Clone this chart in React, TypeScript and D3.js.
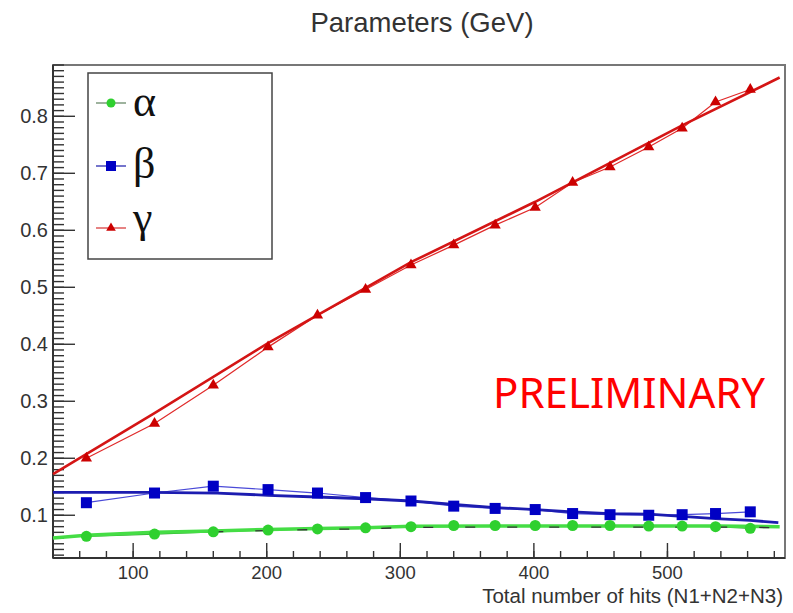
import React, { useEffect, useRef } from "react";
import * as d3 from "d3";

// hits (N1+N2+N3) for each measured point
const hits = [65, 116, 160, 201, 238, 274, 308, 340, 371, 401, 429, 457, 486, 511, 536, 562];

const alphaVals = [0.063, 0.067, 0.071, 0.074, 0.076, 0.078, 0.080, 0.082, 0.082, 0.082, 0.082, 0.082, 0.081, 0.081, 0.080, 0.077];
const betaVals = [0.122, 0.139, 0.151, 0.145, 0.139, 0.131, 0.125, 0.116, 0.112, 0.110, 0.103, 0.101, 0.100, 0.101, 0.103, 0.106];
const gammaVals = [0.200, 0.261, 0.328, 0.395, 0.451, 0.496, 0.539, 0.574, 0.609, 0.640, 0.684, 0.711, 0.746, 0.779, 0.825, 0.847];

// fit curves
const alphaFitX = [40, 65, 116, 160, 201, 238, 274, 308, 371, 457, 536, 584];
const alphaFitY = [0.060, 0.065, 0.070, 0.0725, 0.075, 0.0767, 0.078, 0.0805, 0.081, 0.081, 0.081, 0.080];
const betaFitX = [40, 113, 163, 201, 238, 274, 308, 340, 371, 401, 429, 457, 486, 511, 536, 562, 583];
const betaFitY = [0.140, 0.140, 0.139, 0.135, 0.132, 0.129, 0.125, 0.119, 0.1135, 0.110, 0.106, 0.103, 0.102, 0.098, 0.094, 0.091, 0.087];
const gammaFitX = [40, 116, 201, 308, 401, 511, 584];
const gammaFitY = [0.172, 0.279, 0.402, 0.544, 0.650, 0.784, 0.868];

const xDomain = [40, 588];
const yDomain = [0.025, 0.89];

export default function App() {
  const ref = useRef<SVGSVGElement>(null);

  useEffect(() => {
    const W = 793, H = 613;
    const margin = { top: 65, right: 8, bottom: 55, left: 53 };
    const x = d3.scaleLinear().domain(xDomain).range([margin.left, W - margin.right]);
    const y = d3.scaleLinear().domain(yDomain).range([H - margin.bottom, margin.top]);
    const x0 = margin.left, x1 = W - margin.right, y0 = H - margin.bottom, y1 = margin.top;

    const svg = d3.select(ref.current);
    svg.selectAll("*").remove();
    svg.append("rect").attr("width", W).attr("height", H).attr("fill", "white");

    const font = "'Liberation Sans', Arial, sans-serif";

    // title
    svg.append("text")
      .attr("x", 422).attr("y", 32)
      .attr("text-anchor", "middle")
      .style("font-family", font).style("font-size", "27.5px").attr("fill", "#333")
      .text("Parameters (GeV)");

    // frame
    svg.append("rect")
      .attr("x", x0).attr("y", y1).attr("width", x1 - x0).attr("height", y0 - y1)
      .attr("fill", "none").attr("stroke", "#777").attr("stroke-width", 2);

    const axes = svg.append("g").attr("stroke", "#333");
    axes.append("line").attr("x1", x0).attr("x2", x0).attr("y1", y0).attr("y2", y1).attr("stroke-width", 2);
    axes.append("line").attr("x1", x0).attr("x2", x1).attr("y1", y0).attr("y2", y0).attr("stroke-width", 2);

    // y ticks (inward)
    y.ticks(100).forEach(t => {
      axes.append("line").attr("x1", x0).attr("x2", x0 + 11).attr("y1", y(t)).attr("y2", y(t)).attr("stroke-width", 1.4);
    });
    y.ticks(10).forEach(t => {
      axes.append("line").attr("x1", x0).attr("x2", x0 + 22).attr("y1", y(t)).attr("y2", y(t)).attr("stroke-width", 1.4);
      svg.append("text")
        .attr("x", x0 - 5).attr("y", y(t)).attr("dy", "0.36em")
        .attr("text-anchor", "end")
        .style("font-family", font).style("font-size", "20px").attr("fill", "#333")
        .text(d3.format(".1f")(t));
    });

    // x ticks (inward)
    x.ticks(30).forEach(t => {
      axes.append("line").attr("x1", x(t)).attr("x2", x(t)).attr("y1", y0).attr("y2", y0 - 7).attr("stroke-width", 1.4);
    });
    x.ticks(5).forEach(t => {
      axes.append("line").attr("x1", x(t)).attr("x2", x(t)).attr("y1", y0).attr("y2", y0 - 15).attr("stroke-width", 1.4);
      svg.append("text")
        .attr("x", x(t)).attr("y", y0 + 21)
        .attr("text-anchor", "middle")
        .style("font-family", font).style("font-size", "18.5px").attr("fill", "#333")
        .text(t);
    });

    svg.append("text")
      .attr("x", 783).attr("y", 603)
      .attr("text-anchor", "end")
      .style("font-family", font).style("font-size", "20.5px").attr("fill", "#333")
      .text("Total number of hits (N1+N2+N3)");

    const line = d3.line<[number, number]>().x(d => x(d[0])).y(d => y(d[1]));
    const zip = (xs: number[], ys: number[]) => xs.map((v, i) => [v, ys[i]] as [number, number]);

    const plot = svg.append("g");

    // data connecting lines
    plot.append("path").attr("d", line(zip(hits, gammaVals))).attr("fill", "none").attr("stroke", "#e02a2a").attr("stroke-width", 1.2);
    plot.append("path").attr("d", line(zip(hits, betaVals))).attr("fill", "none").attr("stroke", "#4a4ad8").attr("stroke-width", 1.2);
    plot.append("path").attr("d", line(zip(hits, alphaVals))).attr("fill", "none").attr("stroke", "#3a3").attr("stroke-width", 1.2);

    // fits
    plot.append("path").attr("d", line(zip(gammaFitX, gammaFitY))).attr("fill", "none").attr("stroke", "#d41515").attr("stroke-width", 2.6);
    plot.append("path").attr("d", line(zip(betaFitX, betaFitY))).attr("fill", "none").attr("stroke", "#1c1cb0").attr("stroke-width", 2.8);
    plot.append("path").attr("d", line(zip(alphaFitX, alphaFitY))).attr("fill", "none").attr("stroke", "#45dd45").attr("stroke-width", 3.5);
    plot.append("path").attr("d", line(zip(alphaFitX.slice(3), alphaFitY.slice(3))))
      .attr("fill", "none").attr("stroke", "#333").attr("stroke-width", 1.3)
      .attr("stroke-dasharray", "10 32").attr("transform", "translate(0,1)");

    // markers
    const tri = d3.symbol().type(d3.symbolTriangle).size(55);
    plot.selectAll(".g").data(zip(hits, gammaVals)).enter().append("path")
      .attr("d", tri).attr("transform", d => `translate(${x(d[0])},${y(d[1])})`).attr("fill", "#cc0000");
    plot.selectAll(".b").data(zip(hits, betaVals)).enter().append("rect")
      .attr("x", d => x(d[0]) - 5.5).attr("y", d => y(d[1]) - 5.5).attr("width", 11).attr("height", 11).attr("fill", "#0000c4");
    plot.selectAll(".a").data(zip(hits, alphaVals)).enter().append("circle")
      .attr("cx", d => x(d[0])).attr("cy", d => y(d[1])).attr("r", 5.5).attr("fill", "#2fd02f");

    // legend
    const lg = svg.append("g");
    lg.append("rect").attr("x", 88).attr("y", 73).attr("width", 184).attr("height", 186)
      .attr("fill", "white").attr("stroke", "#444").attr("stroke-width", 1.5);
    const entries = [
      { label: "\u03b1", c: "#2fd02f", lc: "#6a8a6a", ly: 103, ty: 116, kind: "circle" },
      { label: "\u03b2", c: "#0000c4", lc: "#2a2ab0", ly: 166, ty: 178, kind: "square" },
      { label: "\u03b3", c: "#cc0000", lc: "#d84040", ly: 228, ty: 232, kind: "triangle" },
    ];
    entries.forEach(e => {
      lg.append("line").attr("x1", 96).attr("x2", 126).attr("y1", e.ly).attr("y2", e.ly).attr("stroke", e.lc).attr("stroke-width", 1.3);
      if (e.kind === "circle") lg.append("circle").attr("cx", 111).attr("cy", e.ly).attr("r", 4.5).attr("fill", e.c);
      else if (e.kind === "square") lg.append("rect").attr("x", 106).attr("y", e.ly - 5).attr("width", 10).attr("height", 10).attr("fill", e.c);
      else lg.append("path").attr("d", d3.symbol().type(d3.symbolTriangle).size(40)()).attr("transform", `translate(111,${e.ly})`).attr("fill", e.c);
      lg.append("text").attr("x", 133).attr("y", e.ty)
        .style("font-family", "'Liberation Serif', 'Times New Roman', serif").style("font-size", "44px").attr("fill", "#111")
        .text(e.label);
    });

    svg.append("text")
      .attr("x", 493).attr("y", 408)
      .style("font-family", "'Noto Sans', sans-serif").style("font-size", "42px").attr("fill", "#ff0000")
      .text("PRELIMINARY");
  }, []);

  return (
    <svg ref={ref} width={793} height={613} style={{ position: "absolute", left: 0, top: 0 }} />
  );
}
